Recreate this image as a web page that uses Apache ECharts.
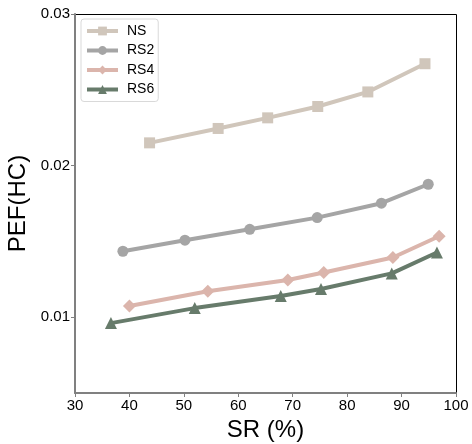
<!DOCTYPE html>
<html>
<head>
<meta charset="utf-8">
<script src="https://cdn.jsdelivr.net/npm/echarts@6/dist/echarts.min.js"></script>
<style>
  html, body { margin: 0; padding: 0; background: #fff; }
  #chart { width: 472px; height: 444px; }
</style>
</head>
<body>
<div id="chart"></div>
<script>
// SR (%) values and PEF(HC) values for each scenario
const nsSR  = [43.7, 56.3, 65.4, 74.6, 83.8, 94.3];
const nsPEF = [0.0215, 0.02245, 0.02315, 0.0239, 0.02486, 0.02672];

const rs2SR  = [38.8, 50.2, 62.1, 74.5, 86.3, 94.9];
const rs2PEF = [0.01435, 0.01508, 0.0158, 0.01657, 0.01752, 0.01877];

const rs4SR  = [40.0, 54.4, 69.1, 75.7, 88.4, 96.9];
const rs4PEF = [0.01074, 0.01171, 0.01245, 0.01295, 0.01394, 0.01534];

const rs6SR  = [36.6, 52.0, 67.8, 75.2, 88.2, 96.5];
const rs6PEF = [0.00961, 0.0106, 0.0114, 0.01186, 0.01289, 0.01427];

const xTicks = [30, 40, 50, 60, 70, 80, 90, 100];
const yTicks = [0.01, 0.02, 0.03];

const FONT = 'Liberation Sans, Arial, sans-serif';
const pairs = (xs, ys) => xs.map((x, i) => [x, ys[i]]);

function makeSeries(name, xs, ys, color, symbol, size) {
  return {
    name: name,
    type: 'line',
    data: pairs(xs, ys),
    symbol: symbol,
    symbolSize: size,
    lineStyle: { color: color, width: 4 },
    itemStyle: { color: color },
    emphasis: { disabled: true },
    animation: false
  };
}

const chart = echarts.init(document.getElementById('chart'), null, { renderer: 'canvas' });
chart.setOption({
  backgroundColor: '#ffffff',
  textStyle: { fontFamily: FONT },
  grid: { left: 75, right: 16, top: 14, bottom: 51, containLabel: false, outerBoundsMode: 'none' },
  legend: {
    orient: 'vertical',
    left: 81,
    top: 19,
    padding: [5, 4, 5, 4],
    itemGap: 5.5,
    itemWidth: 31,
    itemHeight: 11,
    borderColor: '#d9d9d9',
    borderWidth: 1,
    borderRadius: 3,
    backgroundColor: '#ffffff',
    lineStyle: { width: 4 },
    textStyle: { fontSize: 14, color: '#000', fontFamily: FONT, padding: [0, 0, 0, 4] },
    data: ['NS', 'RS2', 'RS4', 'RS6']
  },
  xAxis: {
    type: 'value',
    min: 30,
    max: 100,
    interval: 10,
    name: 'SR (%)',
    nameLocation: 'middle',
    nameGap: 22,
    nameTextStyle: { fontSize: 24, color: '#000', fontFamily: FONT },
    axisLine: { show: true, lineStyle: { color: '#808080', width: 2 } },
    axisTick: { show: true, length: 4, lineStyle: { color: '#808080', width: 1 } },
    axisLabel: { fontSize: 15, color: '#000', margin: 5, customValues: xTicks, fontFamily: FONT },
    splitLine: { show: false }
  },
  yAxis: {
    type: 'value',
    min: 0.005,
    max: 0.03,
    name: 'PEF(HC)',
    nameLocation: 'middle',
    nameGap: 40,
    nameTextStyle: { fontSize: 24, color: '#000', fontFamily: FONT },
    axisLine: { show: true, lineStyle: { color: '#808080', width: 2 } },
    axisTick: { show: true, length: 4, customValues: yTicks, lineStyle: { color: '#808080', width: 1 } },
    axisLabel: {
      fontSize: 15, color: '#000', margin: 5,
      customValues: yTicks,
      formatter: v => v.toFixed(2),
      fontFamily: FONT
    },
    splitLine: { show: false }
  },
  graphic: [
    // top and right frame lines
    {
      type: 'polyline',
      shape: { points: [[75, 14.5], [456.5, 14.5], [456.5, 393]] },
      style: { stroke: '#000', lineWidth: 1, fill: null },
      silent: true
    }
  ],
  series: [
    makeSeries('NS', nsSR, nsPEF, '#d0c6bb', 'rect', 11),
    makeSeries('RS2', rs2SR, rs2PEF, '#a5a5a5', 'circle', 11),
    makeSeries('RS4', rs4SR, rs4PEF, '#dbb5ac', 'diamond', 13),
    makeSeries('RS6', rs6SR, rs6PEF, '#677b6b', 'triangle', 12)
  ]
});
</script>
</body>
</html>
